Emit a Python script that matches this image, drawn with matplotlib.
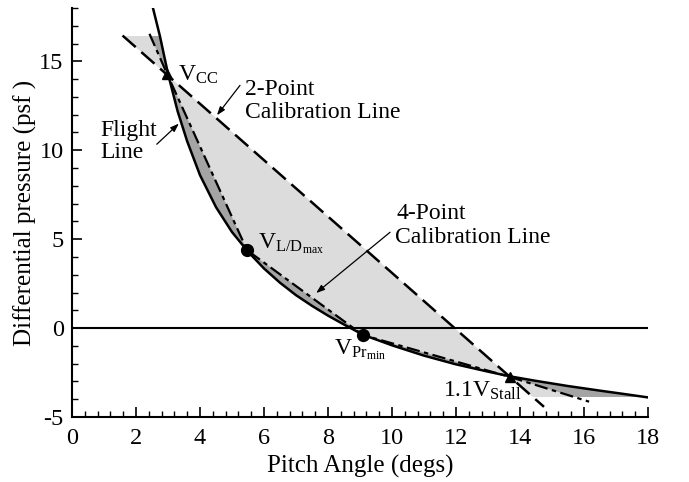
import matplotlib
matplotlib.use("Agg")
import matplotlib.pyplot as plt
from matplotlib.patches import Rectangle, Polygon

plt.rcParams['font.family'] = ['Liberation Serif', 'DejaVu Serif']
plt.rcParams['mathtext.fontset'] = 'custom'
plt.rcParams['mathtext.rm'] = 'Liberation Serif'
plt.rcParams['mathtext.it'] = 'Liberation Serif:italic'

# Flight line (pitch angle deg, differential pressure psf)
flight_x = [2.53, 2.75, 3.0, 3.3, 3.6, 4.0, 4.5, 5.0, 5.5, 6.0, 6.5, 7.0, 7.5,
            8.0, 8.5, 9.1, 10.0, 11.0, 12.0, 13.0, 13.7, 14.5, 15.5, 16.5, 17.3, 18.0]
flight_y = [18.0, 16.4, 14.3, 12.2, 10.5, 8.6, 6.8, 5.4, 4.3, 3.35, 2.55, 1.85, 1.25,
            0.7, 0.2, -0.38, -0.97, -1.55, -2.04, -2.45, -2.72, -2.97, -3.26, -3.52, -3.72, -3.9]

# Calibration points: Vcc, L/Dmax, Prmin, 1.1 Vstall
pt_x = [2.97, 5.47, 9.09, 13.69]
pt_y = [14.3, 4.38, -0.39, -2.75]

# 2-point calibration line end points
two_x = [1.58, 14.75]
two_y = [16.45, -4.43]

# 4-point calibration line (through the 4 points, extended)
four_x = [2.42, 2.97, 5.47, 9.09, 13.69, 16.16]
four_y = [16.55, 14.3, 4.38, -0.39, -2.75, -4.14]

# fill clipping range
fill_ymin, fill_ymax = -3.9, 16.45

fig = plt.figure(figsize=(6.89, 4.82), dpi=100)
ax = fig.add_axes([0.1045, 0.1349, 0.836, 0.8485])
ax.set_xlim(0, 18)
ax.set_ylim(-5, 18)

clip = Rectangle((0, fill_ymin), 18, fill_ymax - fill_ymin, transform=ax.transData,
                 facecolor='none', edgecolor='none')

light = Polygon(list(zip(flight_x, flight_y)) + list(zip(two_x[::-1], two_y[::-1])),
                closed=True, facecolor='#dcdcdc', edgecolor='none', zorder=1)
ax.add_patch(light)
light.set_clip_path(clip)

dark = Polygon(list(zip(flight_x, flight_y)) + list(zip(four_x[::-1], four_y[::-1])),
               closed=True, facecolor='#a4a4a4', edgecolor='none', zorder=1.5)
ax.add_patch(dark)
dark.set_clip_path(clip)

ax.axhline(0, color='black', lw=1.5, zorder=2)
ax.plot(flight_x, flight_y, color='black', lw=1.8, zorder=4)
ax.plot(two_x, two_y, color='black', lw=1.8, dashes=(7, 3), zorder=3)
ax.plot(four_x, four_y, color='black', lw=1.6, dashes=(6, 2, 2, 2), zorder=3)

ax.plot([pt_x[0], pt_x[3]], [pt_y[0], pt_y[3]], linestyle='none', marker='^',
        ms=6.5, color='black', zorder=5)
ax.plot([pt_x[1], pt_x[2]], [pt_y[1], pt_y[2]], linestyle='none', marker='o',
        ms=8.5, color='black', zorder=5)

fa = 17
ax.text(3.31, 13.93, r'$\mathrm{V_{CC}}$', fontsize=fa, ha='left', va='baseline')
ax.text(5.81, 4.49, r'$\mathrm{V_{L/D_{max}}}$', fontsize=fa, ha='left', va='baseline')
ax.text(8.19, -1.46, r'$\mathrm{V_{Pr_{min}}}$', fontsize=fa, ha='left', va='baseline')
ax.text(11.6, -3.88, r'$\mathrm{1.1V_{Stall}}$', fontsize=fa, ha='left', va='baseline')

ax.text(5.41, 13.54, '2-Point', fontsize=fa, ha='left', va='center_baseline')
ax.text(5.41, 12.25, 'Calibration Line', fontsize=fa, ha='left', va='center_baseline')
ax.text(0.875, 11.24, 'Flight', fontsize=fa, ha='left', va='center_baseline')
ax.text(0.875, 10.0, 'Line', fontsize=fa, ha='left', va='center_baseline')
ax.text(10.125, 6.57, '4-Point', fontsize=fa, ha='left', va='center_baseline')
ax.text(10.09, 5.22, 'Calibration Line', fontsize=fa, ha='left', va='center_baseline')

arrow_kw = dict(arrowstyle='-|>,head_length=0.5,head_width=0.18', color='black', lw=0.9,
                shrinkA=0, shrinkB=0)
ax.annotate('', xy=(4.53, 11.97), xytext=(5.25, 13.65), arrowprops=arrow_kw)
ax.annotate('', xy=(3.34, 11.5), xytext=(2.65, 10.34), arrowprops=arrow_kw)
ax.annotate('', xy=(7.63, 1.97), xytext=(9.94, 5.39), arrowprops=arrow_kw)

for s in ['top', 'right']:
    ax.spines[s].set_visible(False)
for s in ['left', 'bottom']:
    ax.spines[s].set_linewidth(1.5)

ax.set_xticks(range(0, 19, 2))
ax.set_xticks([i * 0.4 for i in range(0, 46)], minor=True)
ax.set_yticks([-5, 0, 5, 10, 15])
ax.set_yticks(range(-5, 19), minor=True)
ax.set_yticklabels(['-5', '0', '5', '10', '15'])
ft = 17.5
ax.tick_params(which='major', direction='in', length=7, width=1.2, labelsize=ft)
ax.tick_params(axis='x', which='major', pad=8)
ax.tick_params(axis='y', which='major', pad=6)
ax.tick_params(which='minor', direction='in', length=4, width=1.0)

ax.set_xlabel('Pitch Angle (degs)', fontsize=18, labelpad=4)
ax.set_ylabel('Differential pressure (psf )', fontsize=18, labelpad=2)

fig.savefig('out.png', dpi=100)
